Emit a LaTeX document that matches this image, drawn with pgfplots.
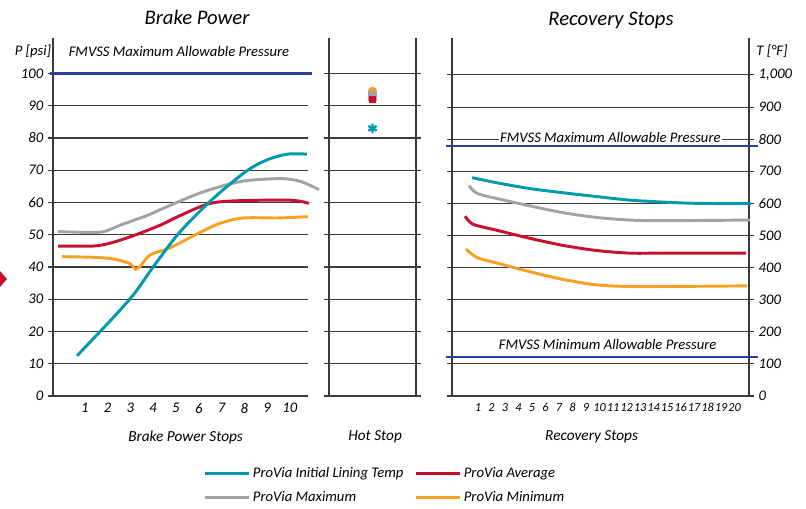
\documentclass[border=0pt]{standalone}
\usepackage{pgfplots}
\pgfplotsset{compat=1.18}
\usepackage{fontspec}
\setmainfont{Carlito}
\definecolor{tealc}{HTML}{0099AD}
\definecolor{crim}{HTML}{C8102E}
\definecolor{gry}{HTML}{A3A3A6}
\definecolor{orng}{HTML}{F7A124}
\definecolor{fmblue}{HTML}{2E3F99}
\definecolor{gridc}{HTML}{3A3A3A}
\pgfplotsset{
  panel/.style={
    scale only axis, height=268.5pt, ymin=0,
    axis x line*=bottom,
    axis line style={gridc, line width=0.8pt},
    ytick align=outside, major tick length=3.75pt,
    ymajorgrids, major grid style={gridc, line width=0.8pt},
    y tick style={gridc, line width=0.8pt},
    x tick style={draw=none},
    tick label style={font=\itshape\fontsize{11}{13}\selectfont,
      /pgf/number format/assume math mode=true},
    xticklabel style={yshift=-2pt},
    label style={font=\itshape\fontsize{11.5}{13}\selectfont},
    every axis plot/.append style={line width=2.2pt, smooth},
    clip=false,
  },
}
\begin{document}
\begin{tikzpicture}
\path[use as bounding box] (0,0) rectangle (604.5pt,-381pt);

% Brake power
\begin{axis}[panel, at={(39.75pt,-297pt)}, anchor=south west, width=191.25pt,
  xmin=-0.4, xmax=10.8, ymax=111,
  axis y line*=left, ytick={0,10,...,100}, xtick={1,...,10},
  xlabel={Brake Power Stops},
  xlabel style={at={(axis description cs:0.52,-0.115)}, anchor=center},
  legend columns=2,
  legend style={at={(axis description cs:0.588,-0.19)}, anchor=north west,
    draw=none, fill=none, inner sep=0pt,
    font=\itshape\fontsize{11}{13}\selectfont,
    /tikz/every even column/.append style={column sep=6pt},
    row sep=5pt},
  legend cell align=left,
  legend image code/.code={\draw[#1, line width=2.3pt] (0pt,0pt) -- (33pt,0pt);},
]
\addlegendimage{tealc}\addlegendentry{ProVia Initial Lining Temp}
\addlegendimage{crim}\addlegendentry{ProVia Average}
\addlegendimage{gry}\addlegendentry{ProVia Maximum}
\addlegendimage{orng}\addlegendentry{ProVia Minimum}
\addplot[fmblue, line width=2.6pt, forget plot] coordinates {(-0.55,100) (10.95,100)};
\addplot[gry, forget plot] coordinates {
(-0.18,51) (1.67,50.8) (2.56,53) (3.74,56) (4.32,57.8) (6.08,63) (7.84,66.5) (9.60,67.4) (10.48,66.5) (11.28,64)};
\addplot[crim, forget plot] coordinates {
(-0.18,46.5) (1.37,46.5) (2.11,47.4) (3.13,49.7) (4.32,53) (5.20,56) (6.39,59.5) (7.53,60.5) (10.04,60.7) (10.84,59.7)};
\addplot[orng, forget plot] coordinates {
(0,43.2) (1.37,43) (2.25,42.5) (3.0,41) (3.22,39.3) (3.44,40.3) (3.88,43.8) (4.76,46) (6.08,50.8) (6.96,53.6) (7.97,55.2) (9.47,55.2) (10.79,55.6)};
\addplot[tealc, forget plot] coordinates {
(0.66,12.5) (1.67,20) (2.4,25.5) (3.2,32) (4.0,40) (5.07,50) (6.08,57.5) (7.0,63.5) (8.15,70) (9.03,73.3) (9.91,75) (10.75,75)};
\end{axis}

% Hot stop
\begin{axis}[panel, at={(246.75pt,-297pt)}, anchor=south west, width=65.25pt,
  xmin=-1, xmax=1, ymax=111,
  axis y line*=box, ytick={0,10,...,100}, ytick pos=both, yticklabels={},
  xtick=\empty,
  xlabel={Hot Stop},
  xlabel style={at={(axis description cs:0.53,-0.115)}, anchor=center},
]
\addplot[orng, only marks, mark=*, mark size=2.2pt] coordinates {(0,94.5)};
\addplot[gry, only marks, mark=square*, mark size=2.4pt] coordinates {(0,93)};
\addplot[crim, only marks, mark=square*, mark size=1.6pt] coordinates {(0,92)};
\addplot[tealc, only marks, mark=asterisk, mark size=3.6pt, mark options={line width=1.8pt}] coordinates {(0,83)};
\end{axis}

% Recovery stops
\begin{axis}[panel, at={(339pt,-297pt)}, anchor=south west, width=222.75pt,
  xmin=-0.93, xmax=21.07, ymax=1115,
  axis y line*=box, ytick={0,100,...,1000}, ytick pos=both, yticklabel pos=right,
  yticklabel style={/pgf/number format/1000 sep={,}},
  xtick={1,...,20},
  xticklabel style={font=\itshape\fontsize{9.2}{10}\selectfont},
  xlabel={Recovery Stops},
  xlabel style={at={(axis description cs:0.47,-0.115)}, anchor=center},
]
\node[fill=white, inner xsep=1pt, inner ysep=0pt, font=\itshape\fontsize{11}{13}\selectfont] at (axis cs:10.8,806) {FMVSS Maximum Allowable Pressure};
\node[font=\itshape\fontsize{11}{13}\selectfont] at (axis cs:10.6,161) {FMVSS Minimum Allowable Pressure};
\addplot[fmblue, line width=1.3pt] coordinates {(-1.37,778) (21.74,778)};
\addplot[fmblue, line width=1.3pt] coordinates {(-1.37,122) (21.74,122)};
\addplot[gry] coordinates {
(0.33,655) (0.93,631) (2.41,615) (4.85,592) (7.30,571) (9.81,556) (12.26,548) (14.70,546) (21.15,548)};
\addplot[crim] coordinates {
(0.04,560) (0.63,535) (2.41,516) (4.85,491) (7.30,469) (9.81,453) (12.26,445) (14.70,445) (20.85,445)};
\addplot[orng] coordinates {
(0.11,458) (0.93,431) (2.41,414) (4.85,387) (7.30,363) (9.81,346) (12.26,341) (14.70,341) (20.93,343)};
\addplot[tealc] coordinates {
(0.56,680) (2.41,664) (4.85,646) (7.30,633) (9.81,621) (12.26,610) (14.70,604) (17.22,600) (21.2,599)};
\end{axis}

\node[font=\itshape\fontsize{15.5}{18}\selectfont] at (147.75pt,-12.75pt) {Brake Power};
\node[font=\itshape\fontsize{15.5}{18}\selectfont] at (458.25pt,-15pt) {Recovery Stops};
\node[font=\itshape\fontsize{11}{13}\selectfont] at (24.75pt,-38.25pt) {P [psi]};
\node[font=\itshape\fontsize{11}{13}\selectfont] at (134.25pt,-38.25pt) {FMVSS Maximum Allowable Pressure};
\node[font=\itshape\fontsize{11}{13}\selectfont] at (579pt,-38.25pt) {T [°F]};
\fill[crim] (0pt,-203.25pt) -- (5.25pt,-209.25pt) -- (0pt,-215.25pt) -- cycle;
\end{tikzpicture}
\end{document}
